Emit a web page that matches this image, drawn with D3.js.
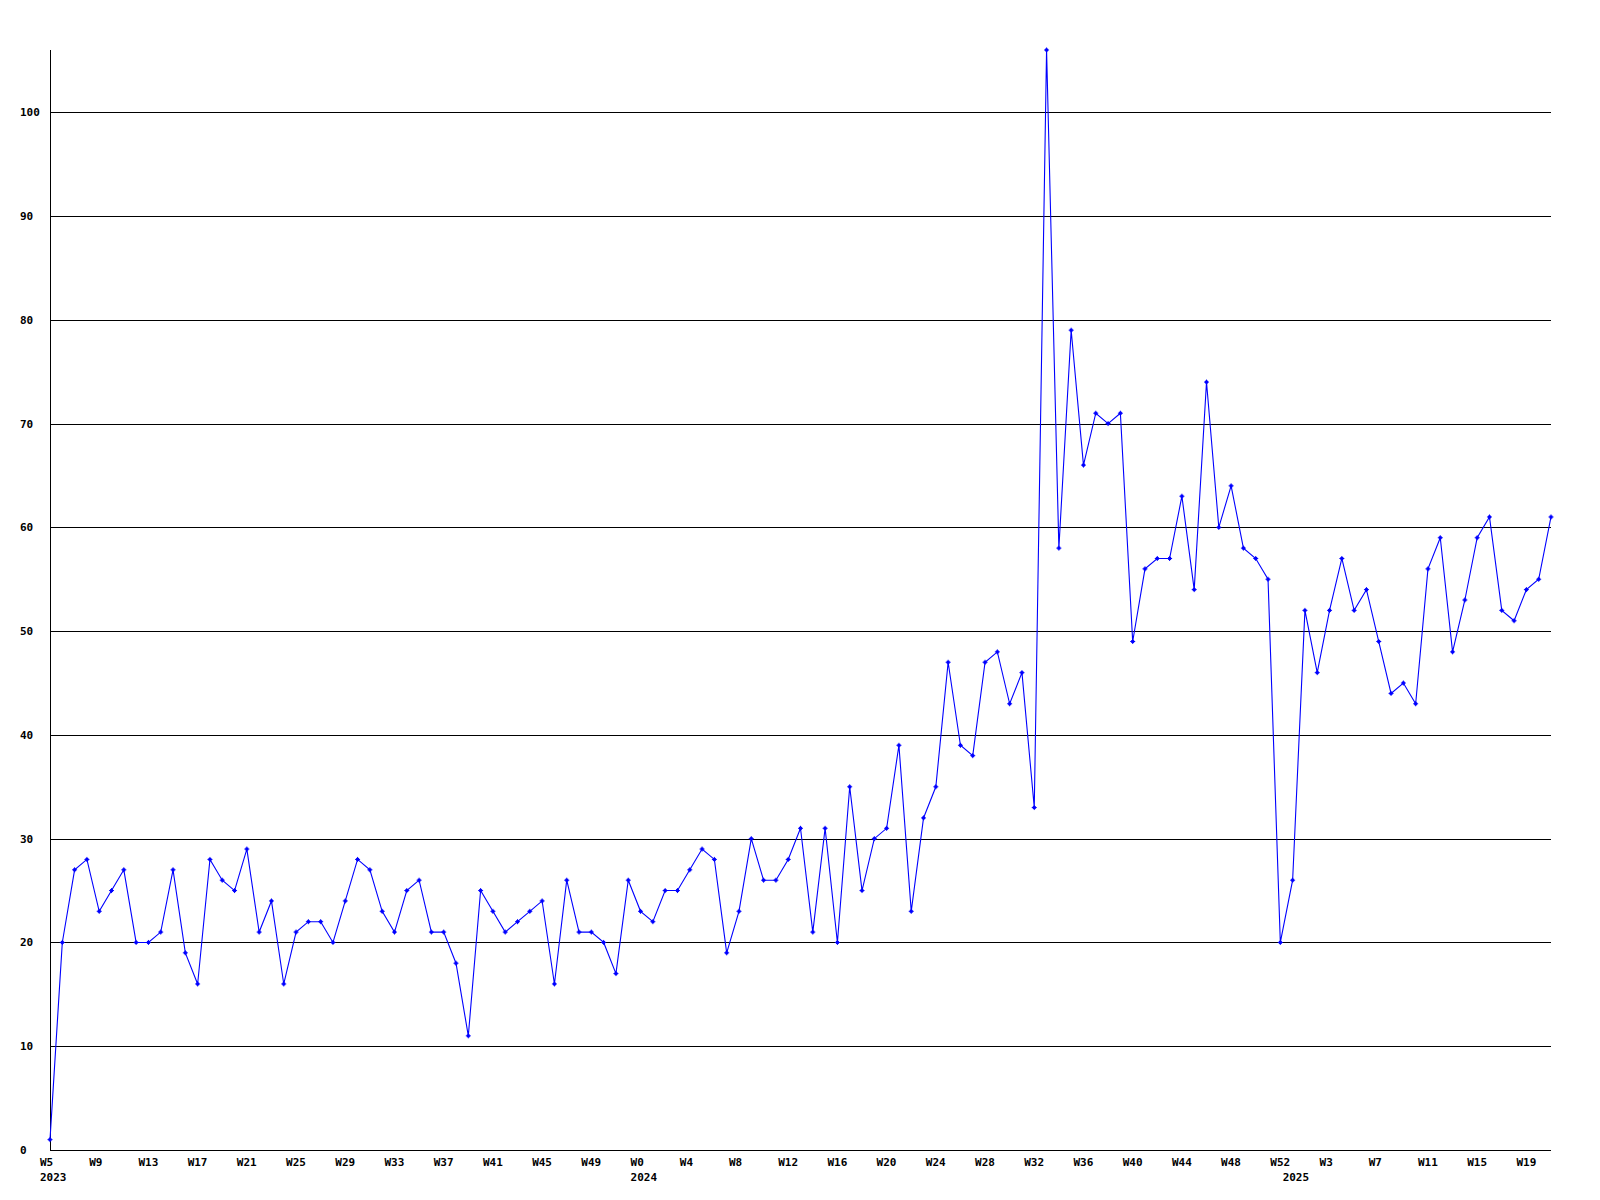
<!DOCTYPE html>
<html>
<head>
<meta charset="utf-8">
<script src="https://cdn.jsdelivr.net/npm/d3@7"></script>
<style>
  html, body { margin: 0; padding: 0; background: #ffffff; }
  svg { display: block; }
  text { font-family: "DejaVu Sans Mono", "Liberation Mono", monospace; font-weight: bold; font-size: 11px; fill: #000; }
</style>
</head>
<body>
<svg id="chart" width="1600" height="1200"></svg>
<script>
// ---- data ----
const years = [2023, 2024, 2025];
const weekRanges = [[5, 52], [0, 52], [0, 21]]; // first and last week shown per year

const values = [
  // 2023 W5..W52
  1, 20, 27, 28, 23, 25, 27, 20, 20, 21, 27, 19, 16, 28, 26, 25, 29, 21, 24, 16,
  21, 22, 22, 20, 24, 28, 27, 23, 21, 25, 26, 21, 21, 18, 11, 25, 23, 21, 22, 23,
  24, 16, 26, 21, 21, 20, 17, 26,
  // 2024 W0..W52
  23, 22, 25, 25, 27, 29, 28, 19, 23, 30, 26, 26, 28, 31, 21, 31, 20, 35, 25, 30,
  31, 39, 23, 32, 35, 47, 39, 38, 47, 48, 43, 46, 33, 106, 58, 79, 66, 71, 70, 71,
  49, 56, 57, 57, 63, 54, 74, 60, 64, 58, 57, 55, 20,
  // 2025 W0..W21
  26, 52, 46, 52, 57, 52, 54, 49, 44, 45, 43, 56, 59, 48, 53, 59, 61, 52, 51, 54,
  55, 61
];

const yTicks = [0, 10, 20, 30, 40, 50, 60, 70, 80, 90, 100];
const yMax = 106;
const xTickEvery = 4;

// categories (one per weekly point)
const categories = [];
years.forEach((yr, i) => {
  for (let w = weekRanges[i][0]; w <= weekRanges[i][1]; w++) {
    categories.push({ year: yr, week: w, label: "W" + w });
  }
});

(function draw() {
  const svg = d3.select("#chart");
  const pLeft = 50, pRight = 1551, pTop = 50, pBottom = 1150;

  const x = d3.scaleLinear().domain([0, categories.length - 1]).range([pLeft, pRight]);
  const y = d3.scaleLinear().domain([0, yMax]).range([pBottom, pTop]);

  svg.append("rect").attr("width", 1600).attr("height", 1200).attr("fill", "#fff");

  // horizontal grid lines
  svg.append("g").selectAll("line")
    .data(yTicks.filter(d => d > 0))
    .join("line")
    .attr("x1", pLeft).attr("x2", pRight)
    .attr("y1", d => Math.round(y(d)) + 0.5)
    .attr("y2", d => Math.round(y(d)) + 0.5)
    .attr("stroke", "#000").attr("stroke-width", 1)
    .attr("shape-rendering", "crispEdges");

  // y labels
  svg.append("g").selectAll("text")
    .data(yTicks)
    .join("text")
    .attr("x", 20)
    .attr("y", d => Math.round(y(d)) + 4)
    .text(d => d);

  // axes lines
  svg.append("line")
    .attr("x1", pLeft + 0.5).attr("x2", pLeft + 0.5)
    .attr("y1", pTop).attr("y2", pBottom + 1)
    .attr("stroke", "#000").attr("shape-rendering", "crispEdges");
  svg.append("line")
    .attr("x1", pLeft).attr("x2", pRight)
    .attr("y1", pBottom + 0.5).attr("y2", pBottom + 0.5)
    .attr("stroke", "#000").attr("shape-rendering", "crispEdges");

  // x week labels
  const tickIdx = d3.range(0, categories.length, xTickEvery);
  svg.append("g").selectAll("text")
    .data(tickIdx)
    .join("text")
    .attr("x", i => x(i) - 10)
    .attr("y", 1166)
    .text(i => categories[i].label);

  // year labels at first point of each year
  const yearIdx = years.map(yr => categories.findIndex(c => c.year === yr));
  svg.append("g").selectAll("text")
    .data(yearIdx)
    .join("text")
    .attr("x", i => x(i) - 10)
    .attr("y", 1181)
    .text(i => categories[i].year);

  // data line
  const line = d3.line().x((d, i) => x(i)).y(d => y(d));
  svg.append("path")
    .datum(values)
    .attr("d", line)
    .attr("fill", "none")
    .attr("stroke", "#0000ff")
    .attr("stroke-width", 1.1);

  // markers
  const mk = svg.append("g").selectAll("g")
    .data(values)
    .join("g")
    .attr("transform", (d, i) => `translate(${x(i)},${y(d)})`);
  mk.append("rect").attr("x", -1.5).attr("y", -1.5).attr("width", 3).attr("height", 3).attr("fill", "#0000ff");
  mk.append("path").attr("d", "M-2.5,0H2.5M0,-2.5V2.5").attr("stroke", "#0000ff").attr("stroke-width", 1);
})();
</script>
</body>
</html>
